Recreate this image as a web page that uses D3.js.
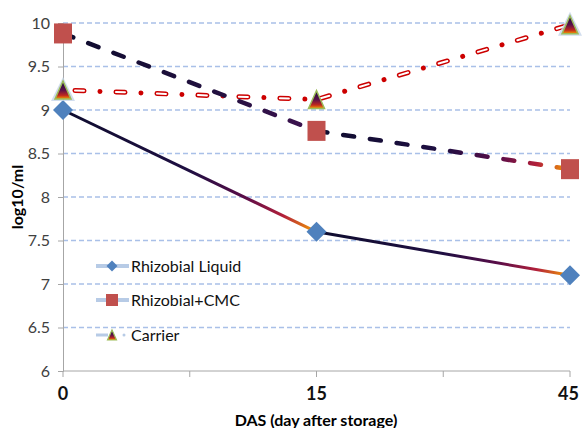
<!DOCTYPE html>
<html>
<head>
<meta charset="utf-8">
<script src="https://cdn.jsdelivr.net/npm/d3@7"></script>
<style>
  body { margin: 0; background: #fff; }
  text { font-family: Lato, "Open Sans", sans-serif; }
</style>
</head>
<body>
<div id="chart"></div>
<script>
const width = 582;
const height = 428;

// data
const days = ["0", "15", "45"];
const liquid = [9.0, 7.6, 7.1];
const cmc = [9.88, 8.76, 8.32];
const carrier = [9.23, 9.12, 9.98];
const yTicks = [6, 6.5, 7, 7.5, 8, 8.5, 9, 9.5, 10];
const legendNames = ["Rhizobial Liquid", "Rhizobial+CMC", "Carrier"];

const svg = d3.select("#chart").append("svg").attr("width", width).attr("height", height);

const x = d3.scalePoint().domain(days).range([63, 570]);
const y = d3.scaleLinear().domain([6, 10]).range([371, 23]);

const defs = svg.append("defs");

// grid lines
svg.append("g").selectAll("line")
    .data(yTicks.filter(d => d > 6))
    .enter().append("line")
    .attr("x1", 63).attr("x2", 570)
    .attr("y1", d => y(d)).attr("y2", d => y(d))
    .attr("stroke", "#a9c0e8")
    .attr("stroke-width", 1.3)
    .attr("stroke-dasharray", "5 3");

// y axis
const yAxis = svg.append("g").attr("transform", "translate(63,0)")
    .call(d3.axisLeft(y).tickValues(yTicks).tickSize(5).tickPadding(8).tickFormat(d3.format("")));
yAxis.select(".domain").attr("stroke", "#a6a6a6");
yAxis.selectAll(".tick line").attr("stroke", "#a6a6a6");
yAxis.selectAll("text").attr("font-size", 16).attr("fill", "#404040")
    .style("font-family", "Lato, 'Open Sans', sans-serif");

// x axis: ticks at each category and half way between them
const xMid = d3.pairs(days).map(([a, b]) => (x(a) + x(b)) / 2);
const xAxis = svg.append("g");
xAxis.append("line").attr("x1", 63).attr("x2", 570).attr("y1", 371).attr("y2", 371).attr("stroke", "#a6a6a6");
xAxis.selectAll("line.tk")
    .data(days.map(d => x(d)).concat(xMid))
    .enter().append("line").attr("class", "tk")
    .attr("x1", d => d).attr("x2", d => d)
    .attr("y1", 371).attr("y2", 377).attr("stroke", "#a6a6a6");
xAxis.selectAll("text")
    .data(days)
    .enter().append("text")
    .attr("x", d => x(d))
    .attr("y", 400)
    .attr("text-anchor", (d, i) => i === days.length - 1 ? "end" : "middle")
    .attr("dx", (d, i) => i === days.length - 1 ? 9 : 0)
    .attr("font-size", 18).attr("font-weight", "bold").attr("fill", "#111")
    .text(d => d);

svg.append("text")
    .attr("x", 316).attr("y", 426)
    .attr("text-anchor", "middle")
    .attr("font-size", 16).attr("font-weight", "bold")
    .text("DAS (day after storage)");

svg.append("text")
    .attr("transform", "translate(23,197) rotate(-90)")
    .attr("text-anchor", "middle")
    .attr("font-size", 16).attr("font-weight", "bold")
    .text("log10/ml");

// gradient per segment, dark navy -> maroon -> orange
const fullStops = [
    [0, "#0e0c2e"], [0.5, "#1f0f42"], [0.72, "#5a0d48"], [0.87, "#b3203a"], [1, "#f5a000"]
];
const darkStops = [[0, "#0e0c2e"], [0.6, "#22103f"], [1, "#3f1250"]];
function segGrad(id, p0, p1, stops) {
    const g = defs.append("linearGradient").attr("id", id)
        .attr("gradientUnits", "userSpaceOnUse")
        .attr("x1", p0[0]).attr("y1", p0[1]).attr("x2", p1[0]).attr("y2", p1[1]);
    g.selectAll("stop").data(stops).enter().append("stop")
        .attr("offset", d => d[0]).attr("stop-color", d => d[1]);
    return `url(#${id})`;
}

const pts = vals => days.map((d, i) => [x(d), y(vals[i])]);

// Rhizobial Liquid: solid
d3.pairs(pts(liquid)).forEach(([a, b], i) => {
    svg.append("path").attr("d", d3.line()([a, b]))
        .attr("stroke", segGrad("liq" + i, a, b, fullStops))
        .attr("stroke-width", 3).attr("fill", "none");
});

// Carrier: dash-dot, hollow dashes
const carrierPath = d3.line()(pts(carrier));
svg.append("path").attr("d", carrierPath)
    .attr("stroke", "#cc0000").attr("stroke-width", 5).attr("fill", "none")
    .attr("stroke-linecap", "round")
    .attr("stroke-dasharray", "9 16 0.01 16")
    .attr("stroke-dashoffset", -12);
svg.append("path").attr("d", carrierPath)
    .attr("stroke", "#fff").attr("stroke-width", 2).attr("fill", "none")
    .attr("stroke-linecap", "round")
    .attr("stroke-dasharray", "9 32.01")
    .attr("stroke-dashoffset", -12);

// Rhizobial+CMC: dashed
d3.pairs(pts(cmc)).forEach(([a, b], i) => {
    svg.append("path").attr("d", d3.line()([a, b]))
        .attr("stroke", segGrad("cmc" + i, a, b, i === 0 ? darkStops : fullStops))
        .attr("stroke-width", 4.5).attr("fill", "none")
        .attr("stroke-linecap", "round")
        .attr("stroke-dasharray", "11 16");
});

// markers
svg.append("g").selectAll("path")
    .data(pts(liquid)).enter().append("path")
    .attr("d", d3.symbol().type(d3.symbolSquare).size(200))
    .attr("transform", d => `translate(${d[0]},${d[1]}) rotate(45)`)
    .attr("fill", "#4f81bd");

svg.append("g").selectAll("rect")
    .data(pts(cmc)).enter().append("rect")
    .attr("x", d => d[0] - 9).attr("y", d => d[1] - 10)
    .attr("width", 18).attr("height", 20)
    .attr("fill", "#c0504d");

const triGrad = defs.append("linearGradient").attr("id", "tri")
    .attr("x1", 0).attr("y1", 0).attr("x2", 0).attr("y2", 1);
triGrad.selectAll("stop").data([[0, "#1a1040"], [0.5, "#5a0f4a"], [0.8, "#c0281e"], [1, "#f5a000"]])
    .enter().append("stop").attr("offset", d => d[0]).attr("stop-color", d => d[1]);

const tri = (cx, cy, h, w) => `M${cx},${cy - h / 2}L${cx + w / 2},${cy + h / 2}L${cx - w / 2},${cy + h / 2}Z`;
const carrierPts = pts(carrier);
svg.append("g").selectAll("path.glow")
    .data(carrierPts).enter().append("path").attr("class", "glow")
    .attr("d", d => tri(d[0], d[1] - 1, 24, 24))
    .attr("fill", "#c5d4ea").attr("opacity", (d, i) => i === 1 ? 0 : 0.8);
svg.append("g").selectAll("path.tri")
    .data(carrierPts).enter().append("path").attr("class", "tri")
    .attr("d", d => tri(d[0], d[1], 18, 16))
    .attr("fill", "url(#tri)")
    .attr("stroke", "#9bbb59").attr("stroke-width", 1.5);

// legend
const legend = svg.append("g");
const legY = [266, 300, 335];
legendNames.forEach((name, i) => {
    const ly = legY[i];
    if (i < 2) {
        legend.append("line").attr("x1", 96).attr("x2", 129).attr("y1", ly).attr("y2", ly)
            .attr("stroke", "#b7cbe6").attr("stroke-width", 4);
    } else {
        legend.append("line").attr("x1", 96).attr("x2", 108).attr("y1", ly).attr("y2", ly)
            .attr("stroke", "#b7cbe6").attr("stroke-width", 3);
        legend.append("circle").attr("cx", 124).attr("cy", ly).attr("r", 1.5).attr("fill", "#b7cbe6");
    }
    if (i === 0) {
        legend.append("path").attr("d", d3.symbol().type(d3.symbolSquare).size(60))
            .attr("transform", `translate(112,${ly}) rotate(45)`).attr("fill", "#4f81bd");
    } else if (i === 1) {
        legend.append("rect").attr("x", 106).attr("y", ly - 6).attr("width", 12).attr("height", 12)
            .attr("fill", "#c0504d");
    } else {
        legend.append("path").attr("d", tri(112, ly, 10, 9))
            .attr("fill", "url(#tri)").attr("stroke", "#9bbb59").attr("stroke-width", 1.2);
    }
    legend.append("text").attr("x", 131).attr("y", ly + 6)
        .attr("font-size", 16).attr("fill", "#111").text(name);
});
</script>
</body>
</html>
